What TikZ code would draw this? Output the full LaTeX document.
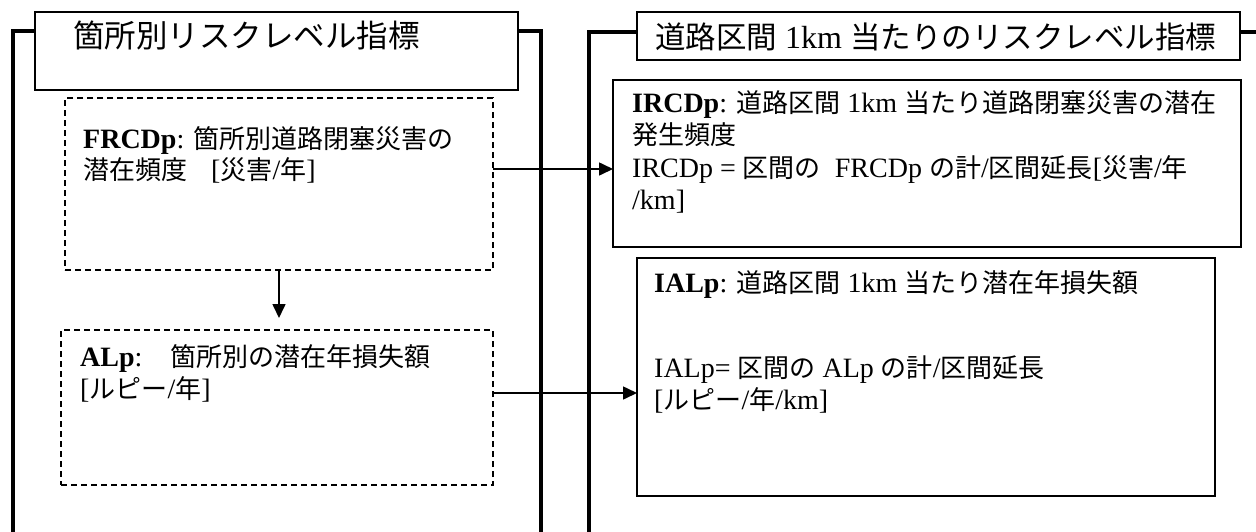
\documentclass[tikz,border=0pt]{standalone}
\usepackage{fontspec}
\setmainfont{Liberation Serif}
\newfontfamily\jp{Noto Sans CJK JP}
\usetikzlibrary{arrows.meta}
\newcommand\bj[1]{{\jp\fontsize{26}{30}\selectfont #1}}
\newcommand\tj[1]{{\jp\fontsize{30.5}{34}\selectfont #1}}
\newcommand\lj[1]{{\jp\fontsize{31.5}{34}\selectfont #1}}
\begin{document}
\begin{tikzpicture}[x=1pt,y=-1pt,
  box/.style={draw, line width=1.5pt, rectangle, inner sep=0pt, outer sep=0pt, anchor=north west},
  dbox/.style={draw, line width=1.5pt, dash pattern=on 6pt off 4pt, rectangle, inner sep=0pt, outer sep=0pt, anchor=north west},
  frame/.style={line width=4.5pt, line join=miter},
  arr/.style={line width=1.6pt, -{Triangle[length=14pt,width=13pt]}},
  txt/.style={anchor=base west, inner sep=0pt, font=\fontsize{28}{32}\selectfont},
  ttl/.style={anchor=base west, inner sep=0pt, font=\fontsize{32}{36}\selectfont}]
\useasboundingbox (0,0) rectangle (1256,531);
\fill[white] (0,0) rectangle (1256,531);

% boxes
\node[box, minimum width=483pt, minimum height=78pt] (t1) at (35,12) {};
\node[box, minimum width=603pt, minimum height=48pt] (t2) at (637,12) {};
\node[dbox, minimum width=428pt, minimum height=172pt] (frcd) at (65,98) {};
\node[dbox, minimum width=432pt, minimum height=155pt] (alp) at (61,330) {};
\node[box, minimum width=628pt, minimum height=167pt] (ircd) at (613,80) {};
\node[box, minimum width=578pt, minimum height=238pt] (ialp) at (637,258) {};

% frames
\draw[frame] (t1.west |- 0,31) -- (13,31) -- (13,545);
\draw[frame] (t1.east |- 0,31) -- (541,31) -- (541,545);
\draw[frame] (t2.west |- 0,32) -- (589,32) -- (589,545);
\draw[frame] (t2.east |- 0,32) -- (1265,32);

% titles
\node[ttl] (t1txt) at (73,47) {\lj{箇所別リスクレベル指標}};
\node[ttl] (t2txt) at (655,48) {\tj{道路区間} 1km \tj{当たりのリスクレベル指標}};

% texts
\node[txt] (f1) at (83,148) {\textbf{FRCDp}: \bj{箇所別道路閉塞災害の}};
\node[txt] (f2) at (83,179) {\bj{潜在頻度}\hspace{24pt}[\bj{災害}/\bj{年}]};
\node[txt] (r1) at (632,112) {\textbf{IRCDp}: \bj{道路区間} 1km \bj{当たり道路閉塞災害の潜在}};
\node[txt] (r2) at (632,144) {\bj{発生頻度}};
\node[txt] (r3) at (632,177) {IRCDp = \bj{区間の}\ \ FRCDp \bj{の計}/\bj{区間延長}[\bj{災害}/\bj{年}};
\node[txt] (r4) at (632,209) {/km]};
\node[txt] (a1) at (80,366) {\textbf{ALp}:\hspace{28pt}\bj{箇所別の潜在年損失額}};
\node[txt] (a2) at (80,398) {[\bj{ルピー}/\bj{年}]};
\node[txt] (i1) at (654,292) {\textbf{IALp}: \bj{道路区間} 1km \bj{当たり潜在年損失額}};
\node[txt] (i2) at (654,377) {IALp= \bj{区間の} ALp \bj{の計}/\bj{区間延長}};
\node[txt] (i3) at (654,409) {[\bj{ルピー}/\bj{年}/km]};

% connectors
\coordinate (c1) at (493,169);
\coordinate (c2) at (493,393);
\draw[arr] (c1) -- (c1 -| ircd.west);
\draw[arr] (c2) -- (c2 -| ialp.west);
\draw[arr, shorten >=12pt] (frcd.south) -- (frcd.south |- alp.north);
\end{tikzpicture}
\end{document}
